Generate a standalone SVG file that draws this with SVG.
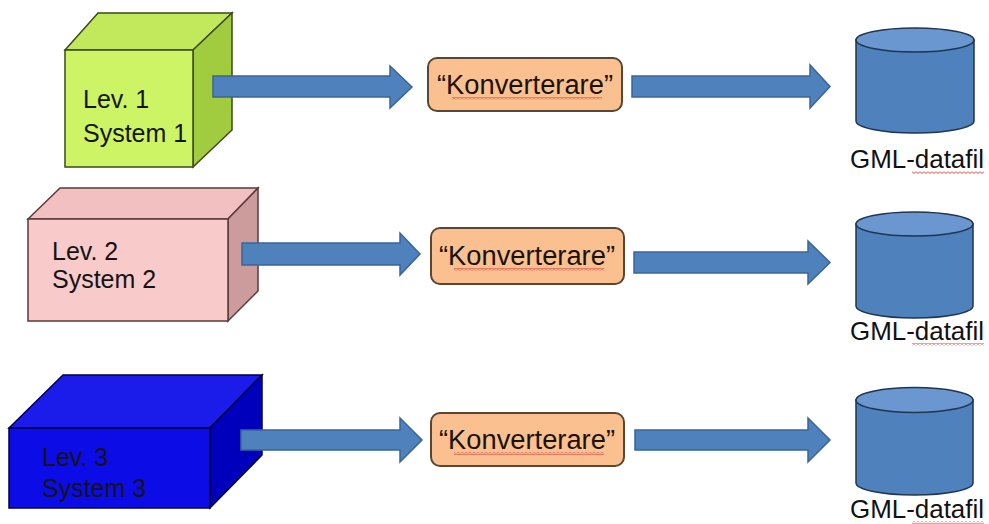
<svg xmlns="http://www.w3.org/2000/svg" width="989" height="524" viewBox="0 0 989 524">
<defs>
<style>
.lbl{font-family:"Liberation Sans",Arial,sans-serif;font-size:25px;fill:#141414}
.conv{font-family:"Liberation Sans",Arial,sans-serif;font-size:27px;fill:#1a1208}
.gml{font-family:"Liberation Sans",Arial,sans-serif;font-size:26px;fill:#111}
.arrow{fill:#4F81BD;stroke:#3A6596;stroke-width:1.5;stroke-linejoin:miter}
.box{fill:#FAC090;stroke:#5A4632;stroke-width:2}
.cylb{fill:#4F81BD;stroke:#1F3550;stroke-width:1.5}
.cylt{fill:#6A97D0;stroke:#1F3550;stroke-width:1.5}
.c1f{fill:#CCF464;stroke:#3A4A1A;stroke-width:1.5}
.c1t{fill:#C2E85C;stroke:#3A4A1A;stroke-width:1.5}
.c1s{fill:#A2CC40;stroke:#3A4A1A;stroke-width:1.5}
.c2f{fill:#F9CACA;stroke:#5A3A3A;stroke-width:1.5}
.c2t{fill:#F2C0C0;stroke:#5A3A3A;stroke-width:1.5}
.c2s{fill:#CC9C9C;stroke:#5A3A3A;stroke-width:1.5}
.c3f{fill:#0C0CE6;stroke:#000040;stroke-width:1.5}
.c3t{fill:#1C1CEA;stroke:#000040;stroke-width:1.5}
.c3s{fill:#0000BC;stroke:#000040;stroke-width:1.5}
</style>
<pattern id="wave" width="4" height="3" patternUnits="userSpaceOnUse">
<path d="M0,0.5 L2,2.5 L4,0.5" stroke="#E02828" stroke-width="0.9" fill="none"/>
</pattern>
</defs>
<rect width="989" height="524" fill="#fff"/>

<g id="system1">
<polygon class="c1t" points="65,50 98,13 232,13 193,50"/>
<polygon class="c1s" points="193,50 232,13 232,130 193,167"/>
<rect class="c1f" x="65" y="50" width="128" height="117"/>
<text class="lbl" x="83" y="108">Lev. 1</text>
<text class="lbl" x="83" y="142">System 1</text>
</g>

<g id="system2">
<polygon class="c2t" points="28,219 60,188 258,188 228,219"/>
<polygon class="c2s" points="228,219 258,188 258,291 228,321"/>
<rect class="c2f" x="28" y="219" width="200" height="102"/>
<text class="lbl" x="52" y="260">Lev. 2</text>
<text class="lbl" x="52" y="288">System 2</text>
</g>

<g id="system3">
<polygon class="c3t" points="9,428 63,375 262,375 210,428"/>
<polygon class="c3s" points="210,428 262,375 262,455 210,508"/>
<rect class="c3f" x="9" y="428" width="201" height="80"/>
<text class="lbl" x="42" y="466">Lev. 3</text>
<text class="lbl" x="42" y="497">System 3</text>
</g>

<g id="conv1">
<rect class="box" x="428" y="58" width="194" height="53" rx="9"/>
<text class="conv" x="525" y="94" text-anchor="middle" textLength="176" lengthAdjust="spacingAndGlyphs">“Konverterare”</text>
<rect x="452" y="97" width="150" height="3" fill="url(#wave)"/>
</g>
<g id="conv2">
<rect class="box" x="431" y="228" width="193" height="56" rx="9"/>
<text class="conv" x="527" y="265" text-anchor="middle" textLength="176" lengthAdjust="spacingAndGlyphs">“Konverterare”</text>
<rect x="454" y="268" width="150" height="3" fill="url(#wave)"/>
</g>
<g id="conv3">
<rect class="box" x="431" y="413" width="193" height="53" rx="9"/>
<text class="conv" x="527" y="449" text-anchor="middle" textLength="176" lengthAdjust="spacingAndGlyphs">“Konverterare”</text>
<rect x="454" y="452" width="150" height="3" fill="url(#wave)"/>
</g>

<g id="gml1">
<path class="cylb" d="M856,40 V121 A59,12 0 0 0 974,121 V40 Z"/>
<ellipse class="cylt" cx="915" cy="40" rx="59" ry="12"/>
<text class="gml" x="917" y="168" text-anchor="middle" textLength="134" lengthAdjust="spacingAndGlyphs">GML-datafil</text>
<rect x="912" y="171" width="72" height="3" fill="url(#wave)"/>
</g>
<g id="gml2">
<path class="cylb" d="M856,224 V306 A58.5,12 0 0 0 973,306 V224 Z"/>
<ellipse class="cylt" cx="914.5" cy="224" rx="58.5" ry="12"/>
<text class="gml" x="917" y="340" text-anchor="middle" textLength="134" lengthAdjust="spacingAndGlyphs">GML-datafil</text>
<rect x="912" y="343" width="72" height="3" fill="url(#wave)"/>
</g>
<g id="gml3">
<path class="cylb" d="M856,400 V483 A58.5,12 0 0 0 973,483 V400 Z"/>
<ellipse class="cylt" cx="914.5" cy="400" rx="58.5" ry="12.5"/>
<text class="gml" x="917" y="518" text-anchor="middle" textLength="134" lengthAdjust="spacingAndGlyphs">GML-datafil</text>
<rect x="912" y="521" width="72" height="3" fill="url(#wave)"/>
</g>

<g id="connectors">
<polygon class="arrow" points="213,76 390,76 390,66 412,87 390,108 390,97 213,97"/>
<polygon class="arrow" points="632,76 810,76 810,65 830,86.5 810,108 810,97 632,97"/>
<polygon class="arrow" points="242,243 400,243 400,233 420,254 400,275 400,265 242,265"/>
<polygon class="arrow" points="634,252 808,252 808,241 830,262.5 808,284 808,273 634,273"/>
<polygon class="arrow" points="241,430 400,430 400,418 422,440 400,462 400,450 241,450"/>
<polygon class="arrow" points="635,430 808,430 808,418 830,440 808,462 808,450 635,450"/>
</g>
</svg>
